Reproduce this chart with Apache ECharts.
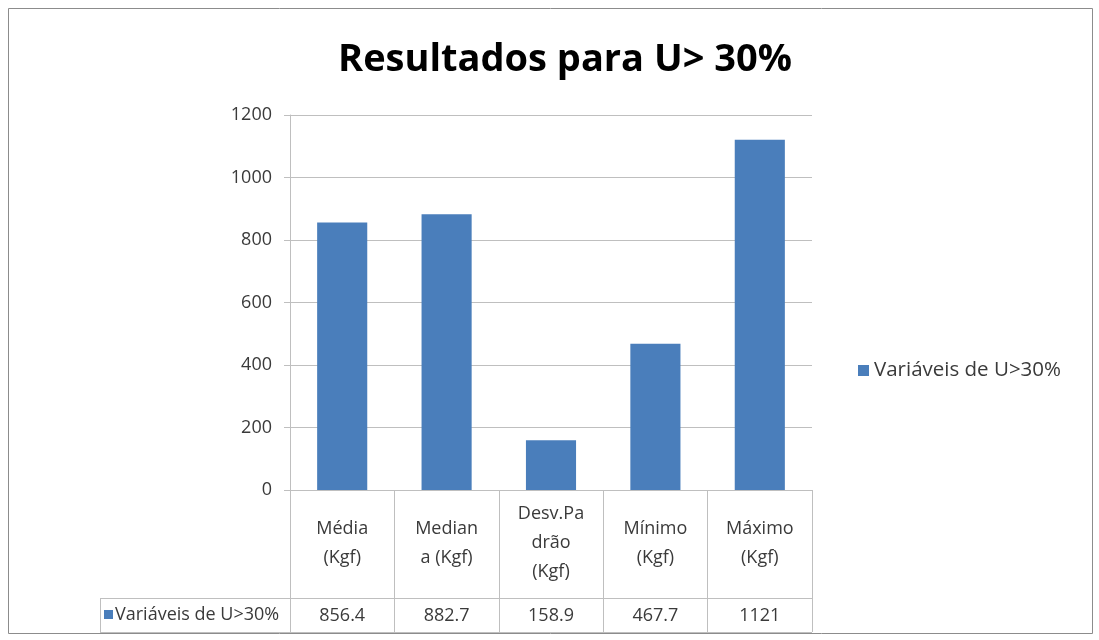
<!DOCTYPE html>
<html>
<head>
<meta charset="utf-8">
<script src="https://cdn.jsdelivr.net/npm/echarts@6/dist/echarts.min.js"></script>
<style>
  html, body { margin: 0; padding: 0; background: #fff; }
  #chart { width: 1099px; height: 640px; }
</style>
</head>
<body>
<div id="chart"></div>
<script>
// dados
const categorias = ['Média\n(Kgf)', 'Median\na (Kgf)', 'Desv.Pa\ndrão\n(Kgf)', 'Mínimo\n(Kgf)', 'Máximo\n(Kgf)'];
const valores = [856.4, 882.7, 158.9, 467.7, 1121];
const rotulosTabela = ['856.4', '882.7', '158.9', '467.7', '1121'];
const nomeSerie = 'Variáveis de U>30%';

const corBarra = '#4A7EBB';
const corTexto = '#3A3A3A';
const corLinha = '#BFBFBF';
const fonte = '"Open Sans", "Noto Sans", sans-serif';

// posição da área do gráfico (px)
const gLeft = 290, gRight = 812, gTop = 115, gBottom = 490;
const linhaValores = 598, linhaFim = 632;

const chart = echarts.init(document.getElementById('chart'));

const option = {
  animation: false,
  backgroundColor: '#fff',
  title: {
    text: 'Resultados para U> 30%',
    left: 560,
    textAlign: 'center',
    top: 36,
    textStyle: { fontFamily: fonte, fontSize: 38, fontWeight: 'bold', color: '#000' }
  },
  legend: {
    data: [nomeSerie],
    left: 853,
    top: 355,
    icon: 'rect',
    itemWidth: 11,
    itemHeight: 11,
    itemGap: 4,
    textStyle: { fontFamily: fonte, fontSize: 20.5, color: corTexto }
  },
  grid: {
    left: gLeft,
    right: 1099 - gRight,
    top: gTop,
    bottom: 640 - gBottom,
    containLabel: false
  },
  xAxis: [
    {
      type: 'category',
      data: categorias,
      position: 'bottom',
      axisLine: { lineStyle: { color: corLinha, width: 1 } },
      axisTick: { show: true, interval: 0, length: linhaFim - gBottom, lineStyle: { color: corLinha } },
      axisLabel: {
        interval: 0,
        margin: 53,
        verticalAlign: 'middle',
        lineHeight: 29,
        fontFamily: fonte,
        fontSize: 18,
        color: corTexto
      }
    },
    {
      type: 'category',
      data: rotulosTabela,
      position: 'bottom',
      offset: linhaValores - gBottom,
      axisLine: { lineStyle: { color: corLinha, width: 1 } },
      axisTick: { show: false },
      axisLabel: {
        interval: 0,
        margin: 18,
        verticalAlign: 'middle',
        fontFamily: fonte,
        fontSize: 18,
        color: corTexto
      }
    }
  ],
  yAxis: {
    type: 'value',
    min: 0,
    max: 1200,
    interval: 200,
    axisLine: { show: true, lineStyle: { color: corLinha } },
    axisTick: { show: true, length: 6, lineStyle: { color: corLinha } },
    axisLabel: {
      margin: 18,
      fontFamily: fonte,
      fontSize: 18,
      color: corTexto,
      formatter: (v) => String(v)
    },
    splitLine: { show: true, lineStyle: { color: corLinha, width: 1 } }
  },
  series: [
    {
      name: nomeSerie,
      type: 'bar',
      xAxisIndex: 0,
      data: valores,
      barCategoryGap: '52%',
      itemStyle: { color: corBarra }
    }
  ],
  graphic: [
    // moldura externa
    {
      type: 'rect',
      shape: { x: 8.5, y: 8.5, width: 1084, height: 625 },
      style: { fill: 'none', stroke: '#8C8C8C', lineWidth: 1 },
      silent: true
    },
    // linhas da tabela de dados
    {
      type: 'line',
      shape: { x1: 100, y1: linhaValores + 0.5, x2: gLeft, y2: linhaValores + 0.5 },
      style: { stroke: corLinha, lineWidth: 1 }
    },
    {
      type: 'line',
      shape: { x1: 100, y1: linhaFim + 0.5, x2: gRight, y2: linhaFim + 0.5 },
      style: { stroke: corLinha, lineWidth: 1 }
    },
    {
      type: 'line',
      shape: { x1: 100.5, y1: linhaValores, x2: 100.5, y2: linhaFim },
      style: { stroke: corLinha, lineWidth: 1 }
    },
    // rótulo da linha da tabela
    {
      type: 'rect',
      shape: { x: 104, y: 610, width: 9, height: 9 },
      style: { fill: corBarra }
    },
    {
      type: 'text',
      x: 115,
      y: 615,
      style: {
        text: nomeSerie,
        fontFamily: fonte,
        fontSize: 18,
        fill: corTexto,
        verticalAlign: 'middle'
      }
    }
  ]
};

chart.setOption(option);
</script>
</body>
</html>
